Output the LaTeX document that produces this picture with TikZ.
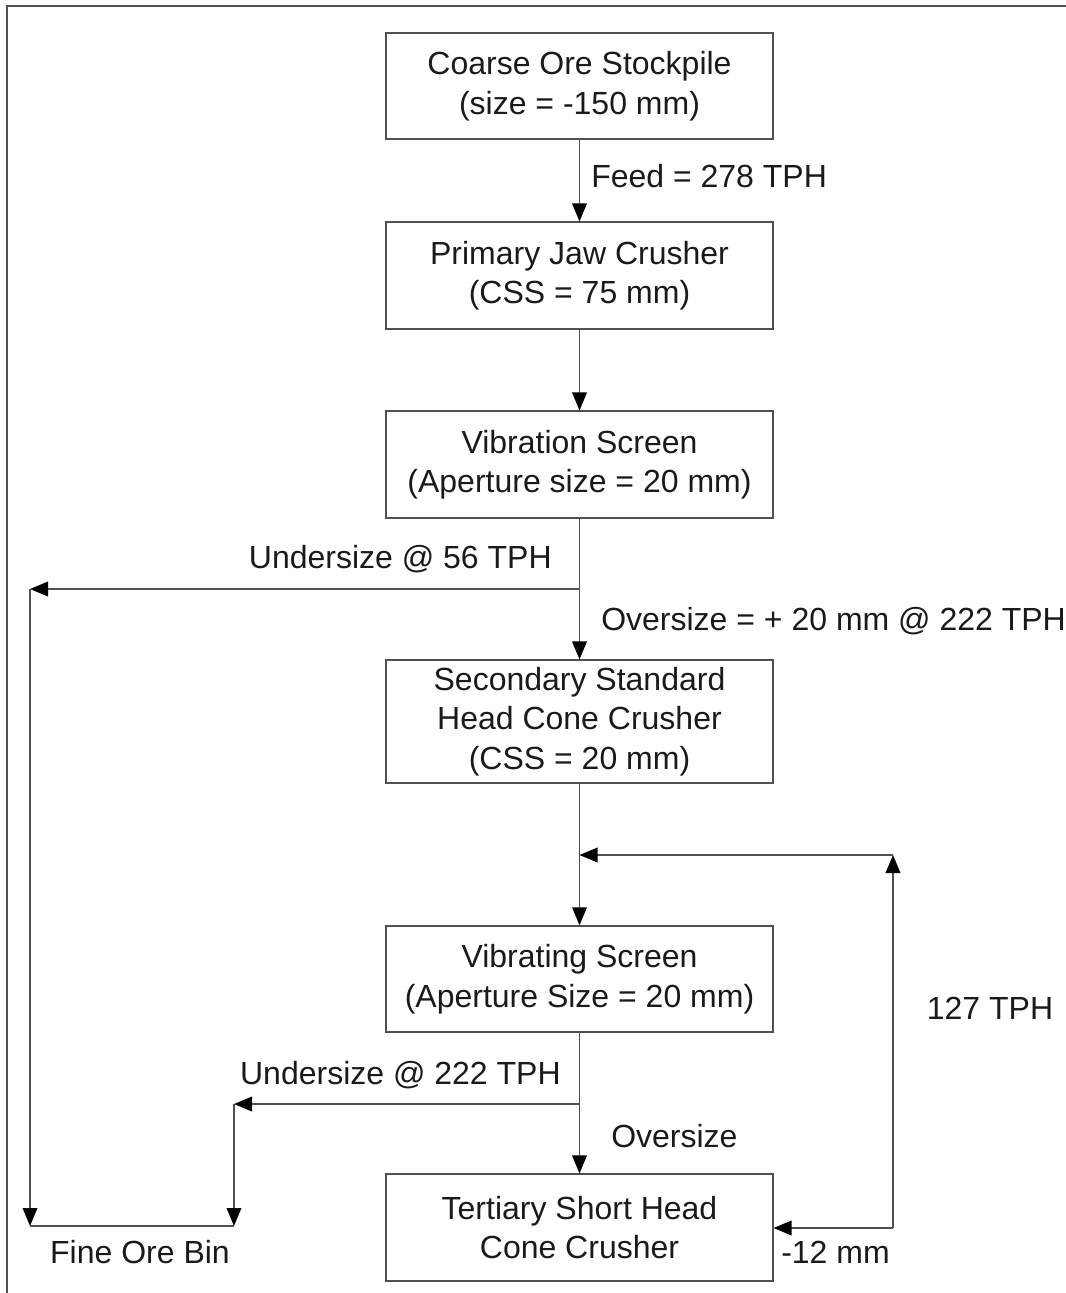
\documentclass[tikz,border=0pt]{standalone}
\usepackage{fontspec}
\setmainfont{Liberation Sans}
\usetikzlibrary{arrows.meta}
\definecolor{ln}{HTML}{505050}
\definecolor{tx}{HTML}{1A1A1A}
\begin{document}
\begin{tikzpicture}[x=0.75pt,y=-0.75pt,
  box/.style={draw=ln,line width=1.1pt,rectangle,minimum width=290pt,inner sep=0pt,
    align=center,font=\fontsize{24}{29.6}\selectfont,text=tx},
  lbl/.style={inner sep=0pt,font=\fontsize{24}{29.6}\selectfont,text=tx,text height=17.2pt,text depth=0pt},
  arr/.style={draw=ln,line width=1.1pt,-{Triangle[length=13.5pt,width=11pt,color=black]}},
  ln/.style={draw=ln,line width=1.1pt}]
\useasboundingbox (0,0) rectangle (1066,1293);
\draw[ln] (7,1300) -- (7,6) -- (1070,6);
\node[box,minimum height=79.5pt] (n1) at (579.5,86) {Coarse Ore Stockpile\\(size = -150 mm)};
\node[box,minimum height=80pt] (n2) at (579.5,275.5) {Primary Jaw Crusher\\(CSS = 75 mm)};
\node[box,minimum height=80pt] (n3) at (579.5,464.5) {Vibration Screen\\(Aperture size = 20 mm)};
\node[box,minimum height=92pt] (n4) at (579.5,721.5) {Secondary Standard\\Head Cone Crusher\\(CSS = 20 mm)};
\node[box,minimum height=79.5pt] (n5) at (579.5,979) {Vibrating Screen\\(Aperture Size = 20 mm)};
\node[box,minimum height=80pt] (n6) at (579.5,1227.5) {Tertiary Short Head\\Cone Crusher};
\coordinate (j1) at (579.5,589);
\coordinate (w1) at (30,589);
\coordinate (b1) at (30,1226);
\coordinate (b2) at (234,1226);
\coordinate (j2) at (579.5,1104);
\coordinate (w2) at (234,1104);
\coordinate (j3) at (579.5,855);
\coordinate (r1) at (893,1228);
\coordinate (r2) at (893,855);
\draw[arr] (n1) -- (n2);
\draw[arr] (n2) -- (n3);
\draw[arr] (n3) -- (n4);
\draw[arr] (n4) -- (n5);
\draw[arr] (n5) -- (n6);
\draw[arr] (j1) -- (w1);
\draw[arr] (w1) -- (b1);
\draw[ln] (b1) -- (b2);
\draw[arr] (j2) -- (w2);
\draw[arr] (w2) -- (b2);
\draw[arr] (r1) -- (n6.east |- r1);
\draw[arr] (r1) -- (r2);
\draw[arr] (r2) -- (j3);
\node[lbl,anchor=west] (l1) at (591,176) {Feed = 278 TPH};
\node[lbl,anchor=east] (l2) at (552,557) {Undersize @ 56 TPH};
\node[lbl,anchor=west] (l3) at (601,619) {Oversize = + 20 mm @ 222 TPH};
\node[lbl,anchor=east] (l4) at (561,1073) {Undersize @ 222 TPH};
\node[lbl,anchor=west] (l5) at (611,1136) {Oversize};
\node[lbl] (l6) at (990,1008) {127 TPH};
\node[lbl,anchor=west] (l7) at (781,1252) {-12 mm};
\node[lbl] (l8) at (140,1252) {Fine Ore Bin};
\end{tikzpicture}
\end{document}
